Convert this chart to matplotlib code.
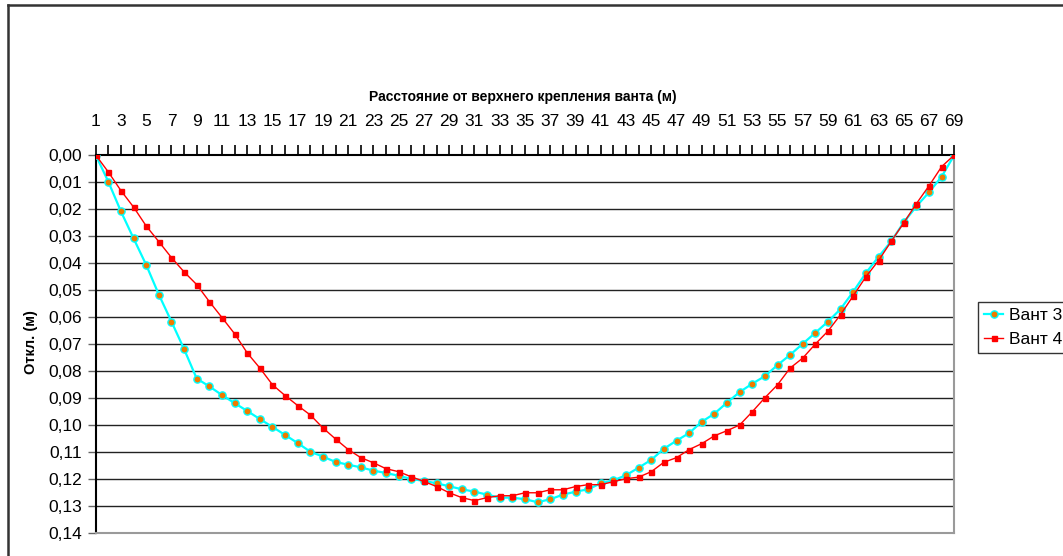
import matplotlib
matplotlib.use("Agg")
import matplotlib.pyplot as plt
from matplotlib.lines import Line2D
from matplotlib.ticker import FuncFormatter, MultipleLocator

plt.rcParams['font.family'] = ['Liberation Sans', 'DejaVu Sans']

positions = list(range(1, 70))

vant3 = [0.0, 0.0099, 0.0209, 0.0309, 0.0407, 0.0517, 0.0617, 0.0719, 0.0828, 0.0857,
         0.0889, 0.0919, 0.0948, 0.0978, 0.1007, 0.1037, 0.1067, 0.1099, 0.1117, 0.1137,
         0.1147, 0.1157, 0.1169, 0.1178, 0.1188, 0.1200, 0.1207, 0.1216, 0.1227, 0.1238,
         0.1247, 0.1258, 0.1269, 0.1269, 0.1275, 0.1286, 0.1275, 0.1258, 0.1247, 0.1238,
         0.1216, 0.1205, 0.1186, 0.1158, 0.1129, 0.1088, 0.1058, 0.1030, 0.0988, 0.0958,
         0.0917, 0.0878, 0.0847, 0.0819, 0.0778, 0.0740, 0.0699, 0.0658, 0.0617, 0.0570,
         0.0506, 0.0437, 0.0377, 0.0320, 0.0249, 0.0190, 0.0138, 0.0080, 0.0]

vant4 = [0.0, 0.0063, 0.0132, 0.0193, 0.0263, 0.0321, 0.0380, 0.0433, 0.0480, 0.0543,
         0.0602, 0.0662, 0.0733, 0.0789, 0.0851, 0.0891, 0.0928, 0.0963, 0.1011, 0.1052,
         0.1091, 0.1121, 0.1140, 0.1162, 0.1173, 0.1192, 0.1209, 0.1228, 0.1251, 0.1269,
         0.1280, 0.1269, 0.1262, 0.1262, 0.1251, 0.1251, 0.1240, 0.1240, 0.1228, 0.1221,
         0.1221, 0.1210, 0.1199, 0.1193, 0.1173, 0.1138, 0.1121, 0.1091, 0.1069, 0.1040,
         0.1021, 0.1000, 0.0951, 0.0899, 0.0851, 0.0789, 0.0752, 0.0700, 0.0652, 0.0591,
         0.0521, 0.0451, 0.0391, 0.0320, 0.0251, 0.0180, 0.0114, 0.0043, 0.0]

series_names = ["Вант 3", "Вант 4"]
x_title = "Расстояние от верхнего крепления ванта (м)"
y_title = "Откл. (м)"

W, H = 1063, 556
fig = plt.figure(figsize=(W / 100, H / 100), dpi=100)

def fx(px):
    return px / W

def fy(py):
    return 1 - py / H

# outer chart border (left and top visible)
fig.add_artist(Line2D([fx(8), fx(8)], [fy(5), fy(560)], color='#333333', lw=1.8))
fig.add_artist(Line2D([fx(8), fx(1070)], [fy(5), fy(5)], color='#333333', lw=1.8))

left, right, top, bottom = 95.7, 954.3, 155, 533
ax = fig.add_axes([fx(left), fy(bottom), (right - left) / W, (bottom - top) / H])

ax.set_xlim(1, 69)
ax.set_ylim(0.14, 0.0)

for yv in [i / 100 for i in range(1, 15)]:
    ax.axhline(yv, color='#222222', lw=1.0, zorder=1)

ax.plot(positions, vant3, color='#00FFFF', lw=1.6, marker='o', markersize=5.2,
        markerfacecolor='#F07A00', markeredgecolor='#00FFFF', markeredgewidth=1.0,
        label=series_names[0], zorder=3)
ax.plot(positions, vant4, color='#FF0000', lw=1.0, marker='s', markersize=3.6,
        markerfacecolor='#FF0000', markeredgecolor='#FF0000',
        label=series_names[1], zorder=4)

ax.xaxis.tick_top()
ax.set_xticks(list(range(1, 70, 2)))
ax.set_xticks(list(range(2, 70, 2)), minor=True)
ax.tick_params(axis='x', which='both', direction='out', length=7, width=1.2,
               color='black', pad=11.5, labelsize=12.5)
ax.yaxis.set_major_locator(MultipleLocator(0.01))
ax.yaxis.set_major_formatter(FuncFormatter(lambda v, p: f"{v:.2f}".replace('.', ',')))
ax.tick_params(axis='y', direction='out', length=6, width=1.0, color='#666666',
               pad=4, labelsize=12.5)

ax.spines['top'].set_color('black')
ax.spines['top'].set_linewidth(1.5)
ax.spines['left'].set_color('black')
ax.spines['left'].set_linewidth(1.5)
ax.spines['right'].set_color('#9a9a9a')
ax.spines['right'].set_linewidth(1.5)
ax.spines['bottom'].set_color('#9a9a9a')
ax.spines['bottom'].set_linewidth(1.5)

fig.text(fx(523), fy(97), x_title, ha='center', va='center', fontsize=10, fontweight='bold')
fig.text(fx(31), fy(342), y_title, ha='center', va='center', fontsize=10.5, fontweight='bold',
         rotation=90)

leg = fig.legend(loc='upper left', bbox_to_anchor=(fx(978), fy(302)), frameon=True,
                 fancybox=False, fontsize=12.5, handlelength=1.1, handletextpad=0.35,
                 borderpad=0.35, labelspacing=0.5, borderaxespad=0)
leg.get_frame().set_edgecolor('black')
leg.get_frame().set_linewidth(1.0)

fig.savefig('out.png', dpi=100)
